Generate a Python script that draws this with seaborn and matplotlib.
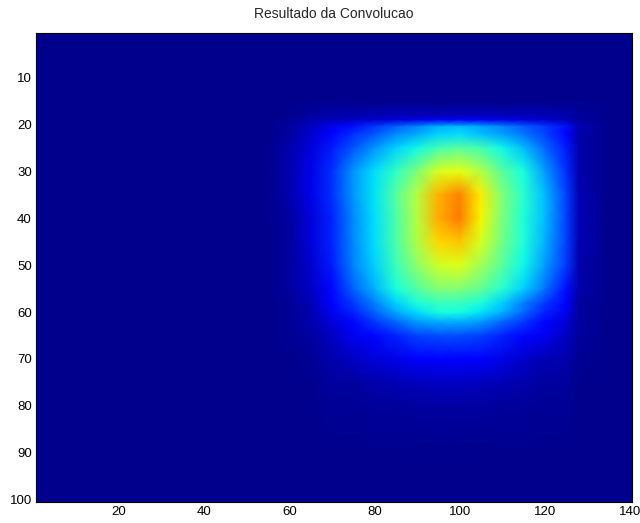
import numpy as np
import matplotlib.pyplot as plt
import seaborn as sns

# sample positions (image column / row coordinates)
cols = [0.5, 55, 60, 65, 70, 75, 80, 85, 90, 95, 100, 105, 110, 115, 120, 125, 128, 135, 140.5]
rows = [0.5, 15, 18, 19, 20.5, 22, 25, 30, 35, 40, 45, 50, 55, 58, 60, 62, 65, 70, 75, 80, 90, 100.5]

B = 0.015  # background level

# values (jet scale 0..1), one list per row
r_000 = [B] * 19
r_015 = [B] * 19
r_018 = [B, B, B, 0.03, 0.04, 0.04, 0.05, 0.05, 0.05, 0.05, 0.05, 0.05, 0.05, 0.05, 0.05, 0.04, 0.03, B, B]
r_019 = [B, B, 0.02, 0.04, 0.05, 0.06, 0.07, 0.08, 0.09, 0.1, 0.1, 0.1, 0.09, 0.08, 0.07, 0.05, 0.03, B, B]
r_020 = [B, B, 0.03, 0.06, 0.1, 0.14, 0.18, 0.22, 0.26, 0.3, 0.31, 0.29, 0.26, 0.22, 0.18, 0.14, 0.05, B, B]
r_022 = [B, B, 0.03, 0.07, 0.12, 0.17, 0.21, 0.26, 0.29, 0.33, 0.34, 0.31, 0.28, 0.24, 0.19, 0.13, 0.04, B, B]
r_025 = [B, B, 0.04, 0.08, 0.15, 0.21, 0.27, 0.33, 0.37, 0.43, 0.46, 0.43, 0.37, 0.31, 0.23, 0.15, 0.04, B, B]
r_030 = [B, B, 0.04, 0.09, 0.17, 0.27, 0.34, 0.41, 0.5, 0.61, 0.63, 0.57, 0.46, 0.38, 0.28, 0.17, 0.04, B, B]
r_035 = [B, B, 0.04, 0.09, 0.17, 0.27, 0.35, 0.45, 0.57, 0.72, 0.77, 0.66, 0.51, 0.4, 0.31, 0.19, 0.05, B, B]
r_040 = [B, B, 0.03, 0.08, 0.16, 0.26, 0.34, 0.44, 0.57, 0.73, 0.78, 0.65, 0.5, 0.39, 0.31, 0.19, 0.05, B, B]
r_045 = [B, B, 0.03, 0.08, 0.16, 0.26, 0.34, 0.44, 0.56, 0.68, 0.7, 0.61, 0.49, 0.39, 0.3, 0.19, 0.05, B, B]
r_050 = [B, B, 0.03, 0.07, 0.15, 0.25, 0.33, 0.42, 0.52, 0.6, 0.62, 0.55, 0.46, 0.37, 0.28, 0.18, 0.04, B, B]
r_055 = [B, B, 0.03, 0.06, 0.13, 0.22, 0.3, 0.38, 0.45, 0.51, 0.51, 0.47, 0.4, 0.33, 0.24, 0.14, 0.04, B, B]
r_058 = [B, B, 0.02, 0.05, 0.11, 0.18, 0.25, 0.33, 0.39, 0.42, 0.42, 0.39, 0.33, 0.25, 0.18, 0.11, 0.03, B, B]
r_060 = [B, B, 0.02, 0.04, 0.1, 0.16, 0.22, 0.29, 0.34, 0.38, 0.38, 0.35, 0.3, 0.23, 0.16, 0.1, 0.03, B, B]
r_062 = [B, B, 0.02, 0.04, 0.08, 0.13, 0.18, 0.23, 0.28, 0.3, 0.3, 0.28, 0.23, 0.18, 0.13, 0.08, 0.03, B, B]
r_065 = [B, B, 0.02, 0.03, 0.06, 0.1, 0.13, 0.16, 0.19, 0.2, 0.2, 0.19, 0.16, 0.13, 0.1, 0.06, 0.03, B, B]
r_070 = [B, B, B, 0.02, 0.04, 0.06, 0.08, 0.09, 0.11, 0.12, 0.12, 0.11, 0.09, 0.07, 0.05, 0.04, 0.02, B, B]
r_075 = [B, B, B, B, 0.03, 0.03, 0.04, 0.05, 0.055, 0.06, 0.06, 0.055, 0.05, 0.04, 0.03, 0.03, B, B, B]
r_080 = [B, B, B, B, 0.02, 0.02, 0.025, 0.025, 0.03, 0.03, 0.03, 0.03, 0.025, 0.025, 0.02, 0.02, B, B, B]
r_090 = [B] * 19
r_100 = [B] * 19

x_ticks = [20, 40, 60, 80, 100, 120, 140]
y_ticks = [10, 20, 30, 40, 50, 60, 70, 80, 90, 100]
title = "Resultado da Convolucao"

values = np.array([r_000, r_015, r_018, r_019, r_020, r_022, r_025, r_030, r_035, r_040,
                   r_045, r_050, r_055, r_058, r_060, r_062, r_065, r_070, r_075, r_080,
                   r_090, r_100])

sns.set_style("white")
plt.rcParams["font.family"] = ["Liberation Sans", "DejaVu Sans"]

cmap = plt.get_cmap("jet")

fig = plt.figure(figsize=(6.4, 5.23), dpi=100)
ax = fig.add_axes([36 / 640, 21 / 523, 596 / 640, 469 / 523])
ax.pcolormesh(cols, rows, values, cmap=cmap, vmin=0, vmax=1, shading="gouraud")
ax.set_xlim(0.5, 140.5)
ax.set_ylim(100.5, 0.5)
ax.set_xticks(x_ticks)
ax.set_yticks(y_ticks)
ax.tick_params(direction="in", length=4, width=0.6, colors="black", labelsize=9.5,
               top=True, right=True, bottom=True, left=True, pad=3)
for s in ax.spines.values():
    s.set_visible(True)
    s.set_color("black")
    s.set_linewidth(0.8)
ax.set_title(title, fontsize=10, pad=11)

fig.savefig("out.png", dpi=100)
